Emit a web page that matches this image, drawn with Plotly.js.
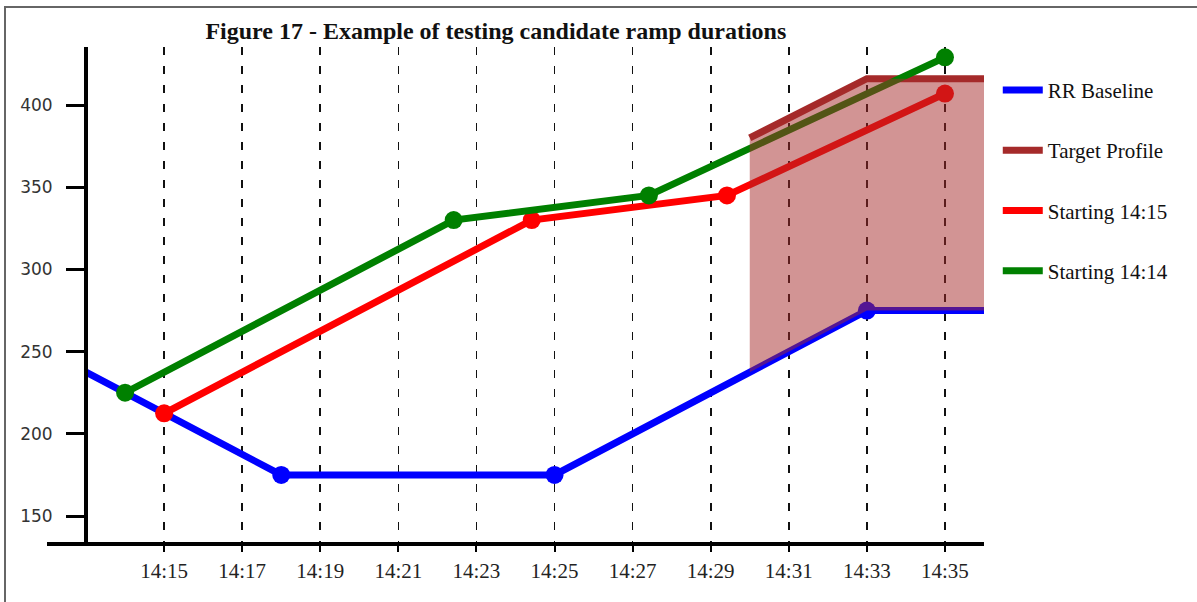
<!DOCTYPE html>
<html>
<head>
<meta charset="utf-8">
<script src="https://cdn.plot.ly/plotly-3.0.1.min.js"></script>
<style>
  html, body { margin: 0; padding: 0; background: #fff; overflow: hidden; }
  #frame { position: absolute; left: 4px; top: 6px; width: 1300px; height: 700px; border: 2px solid #666; box-sizing: border-box; }
  #chart { position: absolute; left: 0; top: 0; width: 1197px; height: 602px; }
</style>
</head>
<body>
<div id="frame"></div>
<div id="chart"></div>
<script>
const DAY = '2020-01-01 ';

// X tick labels (every 2 minutes)
const xTickTimes = ['14:15', '14:17', '14:19', '14:21', '14:23', '14:25', '14:27', '14:29', '14:31', '14:33', '14:35'];
// Y tick labels
const yTickValues = [150, 200, 250, 300, 350, 400];

// RR Baseline
const baselineTimes = ['14:13:00', '14:18:00', '14:25:00', '14:33:00', '14:36:00'];
const baselineValues = [237.5, 175, 175, 275, 275];
const baselineMarked = [false, true, true, true, false];

// Target Profile
const targetTimes = ['14:30:00', '14:33:00', '14:36:00'];
const targetValues = [380, 416, 416];

// Lower edge of the shaded band (baseline under the target window)
const bandLowerTimes = ['14:30:00', '14:33:00', '14:36:00'];
const bandLowerValues = [237.5, 275, 275];

// Starting 14:15
const start1515Times = ['14:15:00', '14:24:25', '14:29:25', '14:35:00'];
const start1515Values = [212.5, 330, 345, 407];

// Starting 14:14
const start1414Times = ['14:14:00', '14:22:25', '14:27:25', '14:35:00'];
const start1414Values = [225, 330, 345, 429];

const seriesNames = ['RR Baseline', 'Target Profile', 'Starting 14:15', 'Starting 14:14'];
const seriesColors = ['#0000ff', '#a52a2a', '#ff0000', '#008000'];

const t = arr => arr.map(s => DAY + s);
const LW = 7, MS = 18;

const traces = [];
traces.push({
  x: t(baselineTimes), y: baselineValues, mode: 'lines', name: seriesNames[0],
  line: { color: seriesColors[0], width: LW }, legendgroup: 'a'
});
traces.push({
  x: t(baselineTimes.filter((_, i) => baselineMarked[i])),
  y: baselineValues.filter((_, i) => baselineMarked[i]),
  mode: 'markers', showlegend: false, marker: { color: seriesColors[0], size: MS }
});
traces.push({
  x: t(targetTimes), y: targetValues, mode: 'lines', name: seriesNames[1],
  line: { color: seriesColors[1], width: LW }, legendgroup: 'b'
});
traces.push({
  x: t(start1515Times), y: start1515Values, mode: 'lines', name: seriesNames[2],
  line: { color: seriesColors[2], width: LW }, legendgroup: 'c'
});
traces.push({
  x: t(start1515Times), y: start1515Values, mode: 'markers', showlegend: false,
  marker: { color: seriesColors[2], size: MS }
});
traces.push({
  x: t(start1414Times), y: start1414Values, mode: 'lines', name: seriesNames[3],
  line: { color: seriesColors[3], width: LW }, legendgroup: 'd'
});
traces.push({
  x: t(start1414Times), y: start1414Values, mode: 'markers', showlegend: false,
  marker: { color: seriesColors[3], size: MS }
});
traces.push({
  x: t(targetTimes).concat(t(bandLowerTimes).reverse()),
  y: targetValues.concat(bandLowerValues.slice().reverse()),
  mode: 'none', fill: 'toself', fillcolor: 'rgba(165,42,42,0.5)', showlegend: false
});

const layout = {
  width: 1197, height: 602,
  margin: { l: 47, r: 213, t: 47, b: 60 },
  paper_bgcolor: 'rgba(0,0,0,0)', plot_bgcolor: 'rgba(0,0,0,0)',
  showlegend: true,
  title: {
    text: '<b>Figure 17 - Example of testing candidate ramp durations</b>',
    font: { family: 'Liberation Serif', size: 24, color: '#111' },
    xref: 'paper', x: 0.479, xanchor: 'center', yref: 'container', y: 0.9485, yanchor: 'middle'
  },
  xaxis: {
    type: 'date', range: [DAY + '14:12:00', DAY + '14:36:00'],
    tickmode: 'array', tickvals: t(xTickTimes), ticktext: xTickTimes,
    showgrid: true, gridcolor: '#111', gridwidth: 1.6, griddash: '8px,11px',
    showline: true, linecolor: '#000', linewidth: 4,
    ticks: 'outside', ticklen: 6, tickwidth: 2, tickcolor: '#000',
    tickfont: { family: 'Liberation Serif', size: 21, color: '#222' },
    ticklabelstandoff: 1, zeroline: false, fixedrange: true
  },
  yaxis: {
    range: [134.2, 435.3], anchor: 'free', position: 1 / 24,
    tickmode: 'array', tickvals: yTickValues,
    showgrid: false, zeroline: false,
    showline: true, linecolor: '#000', linewidth: 4,
    ticks: 'outside', ticklen: 18, tickwidth: 3, tickcolor: '#000',
    tickfont: { family: 'DejaVu Sans', size: 17, color: '#333' },
    ticklabelstandoff: 10, fixedrange: true
  },
  legend: {
    x: 1.0147, xanchor: 'left', y: 0.954, yanchor: 'top',
    traceorder: 'grouped', tracegroupgap: 30, itemwidth: 40,
    font: { family: 'Liberation Serif', size: 21, color: '#111' },
    bgcolor: 'rgba(0,0,0,0)'
  }
};

Plotly.newPlot('chart', traces, layout, { displayModeBar: false, staticPlot: true });
</script>
</body>
</html>
